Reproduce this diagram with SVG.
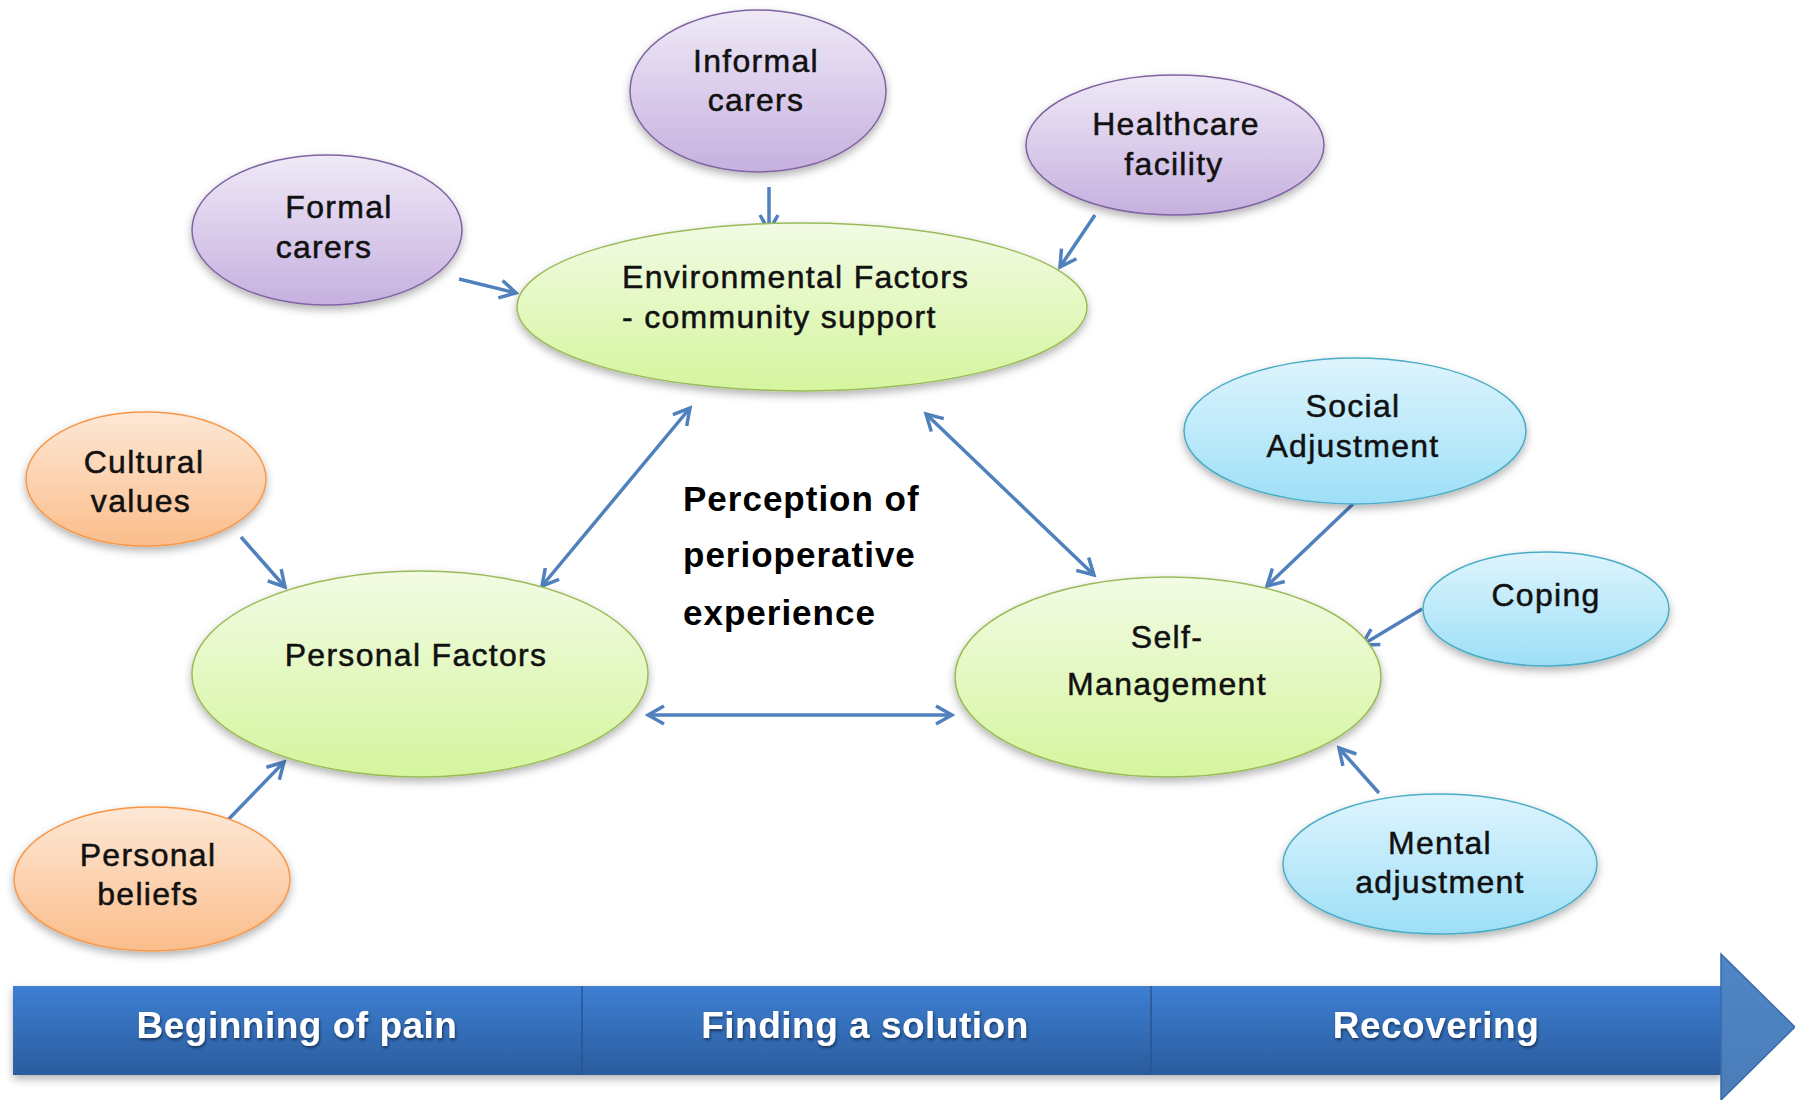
<svg xmlns="http://www.w3.org/2000/svg" width="1795" height="1100" viewBox="0 0 1795 1100">
<style>
.node text{font-family:"Liberation Sans",Arial,sans-serif;font-size:32px;letter-spacing:1.3px;fill:#111;stroke:#111;stroke-width:0.5;text-anchor:middle}
.purple{fill:url(#gPurple);stroke:#8064a2;stroke-width:1.5;filter:url(#sh)}
.green{fill:url(#gGreen);stroke:#9bbb59;stroke-width:1.5;filter:url(#sh)}
.orange{fill:url(#gOrange);stroke:#f79646;stroke-width:1.5;filter:url(#sh)}
.blue{fill:url(#gBlue);stroke:#4bacc6;stroke-width:1.5;filter:url(#sh)}
.conn line{stroke:#4f81bd;stroke-width:3.5;fill:none;marker-end:url(#ah)}
.conn line.dbl{marker-start:url(#ah)}
.center{font-family:"Liberation Sans",Arial,sans-serif;font-weight:bold;font-size:35px;letter-spacing:1px;fill:#000}
.phase{font-family:"Liberation Sans",Arial,sans-serif;font-weight:bold;font-size:37px;letter-spacing:0.5px;fill:#fff;text-anchor:middle;filter:url(#tsh)}
</style>
<defs>
<linearGradient id="gPurple" x1="0" y1="0" x2="0" y2="1"><stop offset="0" stop-color="#efe9f7"/><stop offset="1" stop-color="#c6b0df"/></linearGradient>
<linearGradient id="gGreen" x1="0" y1="0" x2="0" y2="1"><stop offset="0" stop-color="#f2fbe4"/><stop offset="1" stop-color="#d5f59e"/></linearGradient>
<linearGradient id="gOrange" x1="0" y1="0" x2="0" y2="1"><stop offset="0" stop-color="#fde8d6"/><stop offset="1" stop-color="#fbbd8b"/></linearGradient>
<linearGradient id="gBlue" x1="0" y1="0" x2="0" y2="1"><stop offset="0" stop-color="#def4fd"/><stop offset="1" stop-color="#9ddff7"/></linearGradient>
<linearGradient id="gBar" x1="0" y1="0" x2="0" y2="1"><stop offset="0" stop-color="#3d7fd2"/><stop offset="1" stop-color="#2b5c9e"/></linearGradient>
<linearGradient id="gHead" x1="0" y1="0" x2="0" y2="1"><stop offset="0" stop-color="#4f86c6"/><stop offset="1" stop-color="#4a7db9"/></linearGradient>
<filter id="sh" x="-20%" y="-20%" width="140%" height="150%"><feDropShadow dx="0" dy="4" stdDeviation="4" flood-color="#000" flood-opacity="0.3"/></filter>
<filter id="tsh" x="-10%" y="-30%" width="120%" height="160%"><feDropShadow dx="1" dy="2" stdDeviation="1.5" flood-color="#000" flood-opacity="0.5"/></filter>
<marker id="ah" viewBox="0 0 22 22" refX="19" refY="11" markerWidth="22" markerHeight="22" markerUnits="userSpaceOnUse" orient="auto-start-reverse"><path d="M3,2 L19,11 L3,20" fill="none" stroke="#4f81bd" stroke-width="3.5" stroke-linejoin="miter"/></marker>
</defs>
<rect width="1795" height="1100" fill="#fff"/>

<g id="timeline">
<rect x="13" y="986" width="1710" height="89" fill="url(#gBar)" filter="url(#sh)"/>
<line x1="582" y1="986" x2="582" y2="1075" stroke="#2a5490" stroke-width="1.5"/>
<line x1="1151" y1="986" x2="1151" y2="1075" stroke="#2a5490" stroke-width="1.5"/>
<polygon points="1721,954 1795,1027 1721,1100" fill="url(#gHead)" stroke="#3a6aa6" stroke-width="1.5"/>
<text class="phase" x="297" y="1038">Beginning of pain</text>
<text class="phase" x="865" y="1038">Finding a solution</text>
<text class="phase" x="1436" y="1038">Recovering</text>
</g>

<g id="connectors" class="conn">
<line x1="769" y1="187" x2="769" y2="231"/>
<line x1="459" y1="279" x2="516" y2="293"/>
<line x1="1095" y1="215" x2="1060" y2="267"/>
<line x1="241" y1="537" x2="285" y2="587"/>
<line x1="223" y1="825" x2="284" y2="762"/>
<line class="dbl" x1="542" y1="586" x2="690" y2="408"/>
<line class="dbl" x1="648" y1="715" x2="952" y2="715"/>
<line class="dbl" x1="926" y1="414" x2="1094" y2="575"/>
<line x1="1353" y1="504" x2="1267" y2="586"/>
<line x1="1422" y1="609" x2="1362" y2="645"/>
<line x1="1379" y1="793" x2="1339" y2="748"/>
</g>

<g id="informal-carers" class="node">
<ellipse class="purple" cx="758" cy="91" rx="128" ry="81"/>
<text x="756" y="72">Informal</text>
<text x="756" y="111">carers</text>
</g>
<g id="formal-carers" class="node">
<ellipse class="purple" cx="327" cy="230" rx="135" ry="75"/>
<text x="339" y="218">Formal</text>
<text x="324" y="258">carers</text>
</g>
<g id="healthcare-facility" class="node">
<ellipse class="purple" cx="1175" cy="145" rx="149" ry="70"/>
<text x="1176" y="135">Healthcare</text>
<text x="1174" y="175">facility</text>
</g>
<g id="environmental-factors" class="node">
<ellipse class="green" cx="802" cy="307" rx="285" ry="84"/>
<text x="622" y="288" style="text-anchor:start">Environmental Factors</text>
<text x="622" y="328" style="text-anchor:start">- community support</text>
</g>
<g id="cultural-values" class="node">
<ellipse class="orange" cx="146" cy="479" rx="120" ry="67"/>
<text x="144" y="473">Cultural</text>
<text x="141" y="512">values</text>
</g>
<g id="personal-beliefs" class="node">
<ellipse class="orange" cx="152" cy="879" rx="138" ry="72"/>
<text x="148" y="866">Personal</text>
<text x="148" y="905">beliefs</text>
</g>
<g id="personal-factors" class="node">
<ellipse class="green" cx="420" cy="674" rx="228" ry="103"/>
<text x="416" y="666">Personal Factors</text>
</g>
<g id="self-management" class="node">
<ellipse class="green" cx="1168" cy="677" rx="213" ry="100"/>
<text x="1167" y="648">Self-</text>
<text x="1167" y="695">Management</text>
</g>
<g id="social-adjustment" class="node">
<ellipse class="blue" cx="1355" cy="431" rx="171" ry="73"/>
<text x="1353" y="417">Social</text>
<text x="1353" y="457">Adjustment</text>
</g>
<g id="coping" class="node">
<ellipse class="blue" cx="1546" cy="609" rx="123" ry="57"/>
<text x="1546" y="606">Coping</text>
</g>
<g id="mental-adjustment" class="node">
<ellipse class="blue" cx="1440" cy="864" rx="157" ry="70"/>
<text x="1440" y="854">Mental</text>
<text x="1440" y="893">adjustment</text>
</g>

<g id="perception">
<text class="center" x="683" y="511">Perception of</text>
<text class="center" x="683" y="567">perioperative</text>
<text class="center" x="683" y="625">experience</text>
</g>
</svg>
